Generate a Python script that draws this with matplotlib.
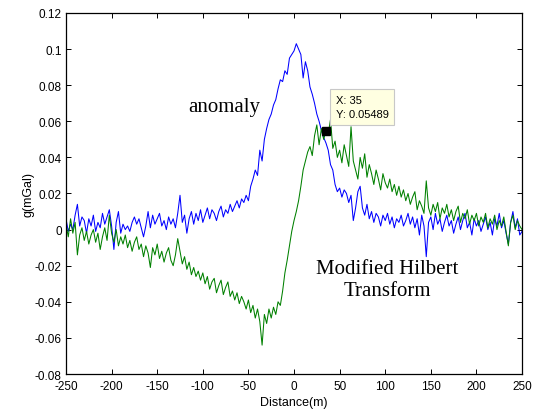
import numpy as np
import matplotlib
matplotlib.use('Agg')
import matplotlib.pyplot as plt

# values, in units of 0.001 mGal, every 2.5 m from -250 to 250
anomaly = [
    6, -1, 3, 0, 8, 14, 2, 7, 5, -2,
    6, 2, 8, -1, 4, 1, 9, 3, 7, 11,
    2, -11, 4, 10, -2, 3, 0, 2, -1, 4,
    7, 3, 6, 1, -4, 2, 10, 1, 8, 3,
    6, 9, 2, 5, 0, 7, 3, 6, 1, 9,
    19, 4, 8, -2, 6, 10, 3, 9, 5, 11,
    4,
    8, 12, 6, 11, 9, 5, 10, 13, 7, 11,
    9, 14, 10, 13, 16, 12, 17, 15, 19, 16,
    24, 28, 33, 30, 44, 38, 50, 56, 61, 64,
    69, 72, 78, 83, 82, 88, 86, 95, 97, 99,
    103, 100, 97, 84, 93, 88, 79, 75, 70, 64,
    60, 55, 51, 48, 44, 36, 33, 25, 21, 23,
    18, 22, 20, 15, 19, 5, 12, 21, 24, 12,
    8, 14, 6, 10, 4, 9, 7, 2, 8, 5,
    9, 3, 7, 1, 6, 4, 8, 2, 5, 9,
    3, 7, 1, 6, -3, 8, 2, -15, 4, 7,
    0, 9, 3, 6, -1, 4, 8, 2, 5, -2,
    3, 7, 0, 5, 9, 1, 4, -3, 6, 2,
    5, -1, 3, 7, 0, 4, -3, 6, 2, 9,
    1, 5, -2, -8, 4, 10, 1, 6, -3, -1,
]

hilbert = [
    3, -4, 6, -2, 4, -14, -3, 1, -6, -1,
    -8, -3, 0, -7, -2, -11, -4, 1, -6, 8,
    -2, -7, 0, -9, -4, -8, -3, -10, -6, -12,
    -7, -4, -11, -8, -15, -9, -13, -21, -10, -14,
    -8, -16, -12, -18, -13, -10, -17, -20, -14, -5,
    -12, -19, -15, -22, -18, -25, -21, -26, -23, -28,
    -24,
    -30, -26, -33, -29, -27, -35, -31, -28, -36, -32,
    -29, -37, -34, -39, -35, -41, -37, -40, -44, -39,
    -46, -42, -49, -44, -51, -64, -47, -52, -44, -49,
    -43, -47, -40, -42, -34, -24, -17, -9, -1, 5,
    10, 16, 24, 33, 38, 43, 46, 41, 52, 58,
    47, 56, 50, 54.89, 53, 61, 45, 49, 40, 44,
    37, 47, 41, 35, 57, 38, 33, 28, 40, 34,
    42, 29, 36, 31, 25, 33, 28, 22, 31, 26,
    23, 28, 21, 25, 19, 24, 18, 22, 16, 20,
    14, 18, 21, 11, 16, 13, 9, 27, 12, 8,
    14, 10, 15, 6, 12, 9, 14, 7, 11, 5,
    10, 13, 4, 9, 6, 11, 3, 8, 5, 9,
    2, 7, 4, 9, 1, 6, 3, 8, 0, 5,
    2, 7, -1, -9, 4, 8, 0, 5, 2, 0,
]

tip_x = 35
tip_y = 0.05489

xticks = [-250, -200, -150, -100, -50, 0, 50, 100, 150, 200, 250]
yticks = [-0.08, -0.06, -0.04, -0.02, 0, 0.02, 0.04, 0.06, 0.08, 0.1, 0.12]
ytick_labels = ['-0.08', '-0.06', '-0.04', '-0.02', '0', '0.02', '0.04',
                '0.06', '0.08', '0.1', '0.12']


def plot_anomaly_and_transform():
    plt.rcParams['font.family'] = ['Liberation Sans', 'DejaVu Sans']
    plt.rcParams['axes.unicode_minus'] = False

    g = np.array(anomaly) / 1000.0
    h = np.array(hilbert) / 1000.0
    dist_g = np.linspace(-250, 250, len(g))
    dist_h = np.linspace(-250, 250, len(h))

    fig = plt.figure(figsize=(5.34, 4.14), dpi=100)
    ax = fig.add_axes([0.1236, 0.0942, 0.854, 0.872])

    ax.plot(dist_g, g, color='#0000ff', lw=0.75)
    ax.plot(dist_h, h, color='#008000', lw=0.75)

    ax.set_xlim(-250, 250)
    ax.set_ylim(-0.08, 0.12)
    ax.set_xticks(xticks)
    ax.set_yticks(yticks)
    ax.set_yticklabels(ytick_labels)
    ax.tick_params(direction='in', top=True, right=True, length=3.5,
                   width=0.7, labelsize=8.5)
    ax.tick_params(axis='x', pad=4)
    ax.tick_params(axis='y', pad=3)
    for s in ax.spines.values():
        s.set_linewidth(0.9)

    ax.set_xlabel('Distance(m)', fontsize=9, labelpad=3)
    ax.set_ylabel('g(mGal)', fontsize=9, labelpad=0)

    ax.text(-77, 0.068, 'anomaly', family='Liberation Serif', fontsize=15,
            ha='center', va='center')
    ax.text(102, -0.0275, 'Modified Hilbert\nTransform', family='Liberation Serif',
            fontsize=15, ha='center', va='center', linespacing=1.2)

    ax.plot([tip_x], [tip_y], 's', color='k', ms=6, zorder=5)
    ax.annotate('X: %d\nY: %.5f' % (tip_x, tip_y), xy=(tip_x, tip_y),
                xytext=(7, 8), textcoords='offset points', fontsize=8,
                ha='left', va='bottom', linespacing=1.55, zorder=6,
                bbox=dict(boxstyle='square,pad=0.5', fc='#ffffe1', ec='#c8c8c8', lw=0.8))

    fig.savefig('out.png', dpi=100)
    return


plot_anomaly_and_transform()
